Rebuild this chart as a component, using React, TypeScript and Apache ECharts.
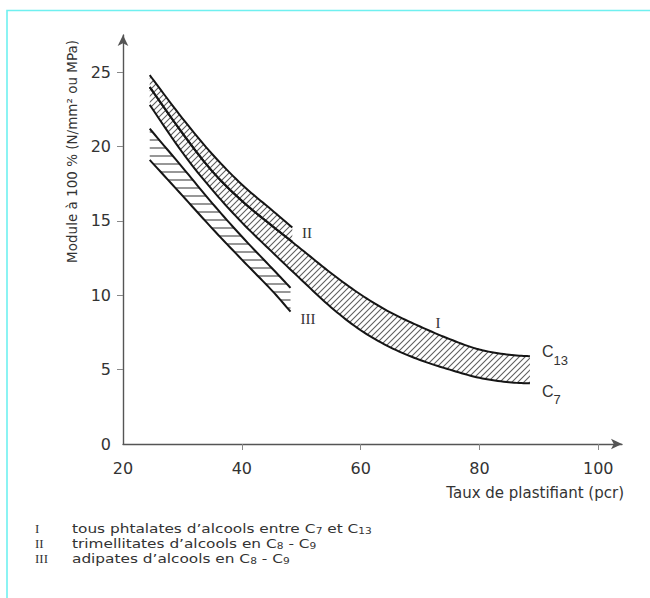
import React, { useEffect, useRef } from "react";
import * as echarts from "echarts";

// ---- Data ----
const tauxI = [24.5, 30, 35, 40, 45, 50, 55, 60, 65, 70, 75, 80, 85, 88.5];
const moduleI_C13 = [24.0, 20.9, 18.35, 16.35, 14.7, 13.1, 11.5, 10.05, 8.85, 7.9, 7.05, 6.35, 6.0, 5.9];
const moduleI_C7 = [22.8, 19.6, 17.1, 14.9, 12.95, 11.05, 9.2, 7.65, 6.5, 5.65, 5.0, 4.45, 4.15, 4.08];

const tauxII = [24.5, 30, 35, 40, 45, 48.5];
const moduleII_haut = [24.8, 21.9, 19.5, 17.45, 15.75, 14.55];
const moduleII_bas = [24.0, 20.9, 18.35, 16.35, 14.7, 13.6];

const tauxIII = [24.5, 30, 35, 40, 45, 48.2];
const moduleIII_haut = [21.2, 18.6, 16.2, 13.95, 11.85, 10.5];
const moduleIII_bas = [19.1, 16.7, 14.5, 12.4, 10.35, 8.9];

const xTickValues = [20, 40, 60, 80, 100];
const yTickValues = [0, 5, 10, 15, 20, 25];

const SANS = "'DejaVu Sans', sans-serif";
const SERIF = "'Liberation Serif', 'DejaVu Serif', serif";
const NARROW = "'Liberation Sans Narrow', 'Liberation Sans', sans-serif";
const INK = "#151515";
const TXT = "#333";

function tile(w: number, h: number, d: string, stroke: string, sw: number) {
  const svg = `<svg xmlns="http://www.w3.org/2000/svg" width="${w}" height="${h}"><path d="${d}" stroke="${stroke}" stroke-width="${sw}" fill="none"/></svg>`;
  return {
    image: "data:image/svg+xml;charset=utf-8," + encodeURIComponent(svg),
    repeat: "repeat",
    imageWidth: w,
    imageHeight: h,
  };
}

const diagHatch = tile(6, 6, "M-1.5 1.5 L1.5 -1.5 M0 6 L6 0 M4.5 7.5 L7.5 4.5", "#5e5e5e", 1.1);
const horizHatch = tile(8, 8, "M0 4 H8", "#5e5e5e", 1.3);

function spline(pts: number[][], seg = 10) {
  const out: number[][] = [];
  const n = pts.length;
  for (let i = 0; i < n - 1; i++) {
    const p0 = pts[Math.max(i - 1, 0)];
    const p1 = pts[i];
    const p2 = pts[i + 1];
    const p3 = pts[Math.min(i + 2, n - 1)];
    for (let k = 0; k < seg; k++) {
      const t = k / seg, t2 = t * t, t3 = t2 * t;
      const pt = [0, 1].map(
        (j) =>
          0.5 *
          (2 * p1[j] +
            (-p0[j] + p2[j]) * t +
            (2 * p0[j] - 5 * p1[j] + 4 * p2[j] - p3[j]) * t2 +
            (-p0[j] + 3 * p1[j] - 3 * p2[j] + p3[j]) * t3)
      );
      out.push(pt);
    }
  }
  out.push(pts[n - 1]);
  return out;
}

function bandSeries(name: string, xs: number[], top: number[], bot: number[], pattern: any) {
  return {
    type: "custom",
    name,
    coordinateSystem: "cartesian2d",
    clip: false,
    silent: true,
    data: xs.map((x, i) => [x, top[i], bot[i]]),
    encode: { x: 0, y: [1, 2] },
    renderItem: (params: any, api: any) => {
      if (params.dataIndex !== 0) return null;
      const topPx = spline(xs.map((x, i) => api.coord([x, top[i]])));
      const botPx = spline(xs.map((x, i) => api.coord([x, bot[i]])));
      return {
        type: "group",
        children: [
          {
            type: "polygon",
            shape: { points: topPx.concat(botPx.slice().reverse()) },
            style: { fill: pattern, stroke: null },
          },
          {
            type: "polyline",
            shape: { points: topPx },
            style: { stroke: INK, lineWidth: 2, fill: null },
          },
          {
            type: "polyline",
            shape: { points: botPx },
            style: { stroke: INK, lineWidth: 2, fill: null },
          },
        ],
      };
    },
  };
}

let measureCtx: CanvasRenderingContext2D | null = null;
function measure(text: string, font: string) {
  if (!measureCtx) measureCtx = document.createElement("canvas").getContext("2d");
  if (!measureCtx) return text.length * 7;
  measureCtx.font = font;
  return measureCtx.measureText(text).width;
}

type Part = { t: string; sub?: boolean };
function runText(
  x: number,
  y: number,
  parts: Part[],
  size: number,
  subSize: number,
  subOffset: number,
  family: string,
  color: string,
  stretch = 1
) {
  const els: any[] = [];
  let cx = x;
  for (const p of parts) {
    const fs = p.sub ? subSize : size;
    const font = `${fs}px ${family}`;
    els.push({
      type: "text",
      x: cx,
      y: p.sub ? y + subOffset : y,
      scaleX: stretch,
      silent: true,
      style: { text: p.t, font, fill: color, textAlign: "left", textVerticalAlign: "middle" },
    });
    cx += measure(p.t, font) * stretch;
  }
  return els;
}

function txt(x: number, y: number, text: string, font: string, align = "left", extra: any = {}) {
  return {
    type: "text",
    x,
    y,
    silent: true,
    ...extra,
    style: { text, font, fill: TXT, textAlign: align, textVerticalAlign: "middle" },
  };
}

export default function App() {
  const ref = useRef<HTMLDivElement>(null);

  useEffect(() => {
    if (!ref.current) return;
    const chart = echarts.init(ref.current, undefined, { renderer: "svg" });

    const L1 = 528.5, L2 = 543.5, L3 = 558.5;
    const ST = 1.18;
    const graphic: any[] = [
      {
        type: "rect",
        silent: true,
        shape: { x: 7, y: 10.5, width: 720, height: 720 },
        style: { fill: "none", stroke: "#6ff0f0", lineWidth: 1.6 },
      },
      txt(72, 40, "Module à 100 % (N/mm² ou MPa)", `13.5px ${SANS}`, "right", { rotation: Math.PI / 2 }),
      txt(624, 493, "Taux de plastifiant (pcr)", `15px ${SANS}`, "right"),
      // curve labels
      txt(307, 233, "II", `15px ${SERIF}`, "center"),
      txt(308, 319, "III", `15px ${SERIF}`, "center"),
      txt(438, 323, "I", `15px ${SERIF}`, "center"),
      ...runText(542, 351.5, [{ t: "C" }, { t: "13", sub: true }], 16, 13, 9, NARROW, TXT),
      ...runText(542, 391, [{ t: "C" }, { t: "7", sub: true }], 16, 13, 8, NARROW, TXT),
      // legend
      txt(35, L1, "I", `13px ${SERIF}`),
      txt(35, L2, "II", `13px ${SERIF}`),
      txt(35, L3, "III", `13px ${SERIF}`),
      ...runText(72, L1, [{ t: "tous phtalates d’alcools entre C" }, { t: "7", sub: true }, { t: " et C" }, { t: "13", sub: true }], 13, 9, 2.2, SANS, TXT, ST),
      ...runText(72, L2, [{ t: "trimellitates d’alcools en C" }, { t: "8", sub: true }, { t: " - C" }, { t: "9", sub: true }], 13, 9, 2.2, SANS, TXT, ST),
      ...runText(72, L3, [{ t: "adipates d’alcools en C" }, { t: "8", sub: true }, { t: " - C" }, { t: "9", sub: true }], 13, 9, 2.2, SANS, TXT, ST),
    ];

    chart.setOption({
      animation: false,
      backgroundColor: "#fff",
      grid: { left: 123, top: 35, width: 499, height: 409, containLabel: false },
      xAxis: {
        type: "value",
        min: 20,
        max: 104,
        interval: 20,
        axisLine: {
          show: true,
          onZero: false,
          symbol: ["none", "arrow"],
          symbolSize: [8, 11],
          lineStyle: { color: "#555", width: 1.4 },
        },
        axisTick: {
          show: true,
          length: 6,
          customValues: [40, 60, 80, 100],
          lineStyle: { color: "#888", width: 1 },
        },
        axisLabel: {
          customValues: xTickValues,
          fontSize: 16,
          fontFamily: SANS,
          color: TXT,
          margin: 16,
        },
        splitLine: { show: false },
      },
      yAxis: {
        type: "value",
        min: 0,
        max: 27.5,
        interval: 5,
        axisLine: {
          show: true,
          onZero: false,
          symbol: ["none", "arrow"],
          symbolSize: [8, 11],
          lineStyle: { color: "#555", width: 1.4 },
        },
        axisTick: {
          show: true,
          length: 6,
          customValues: [5, 10, 15, 20, 25],
          lineStyle: { color: "#888", width: 1 },
        },
        axisLabel: {
          customValues: yTickValues,
          fontSize: 16,
          fontFamily: SANS,
          color: TXT,
          margin: 12,
        },
        splitLine: { show: false },
      },
      series: [
        bandSeries("III adipates", tauxIII, moduleIII_haut, moduleIII_bas, horizHatch),
        bandSeries("I phtalates", tauxI, moduleI_C13, moduleI_C7, diagHatch),
        bandSeries("II trimellitates", tauxII, moduleII_haut, moduleII_bas, diagHatch),
      ],
      graphic,
    });

    return () => {
      chart.dispose();
    };
  }, []);

  return (
    <div
      ref={ref}
      style={{ position: "fixed", left: 0, top: 0, width: 650, height: 598, background: "#fff" }}
    />
  );
}
